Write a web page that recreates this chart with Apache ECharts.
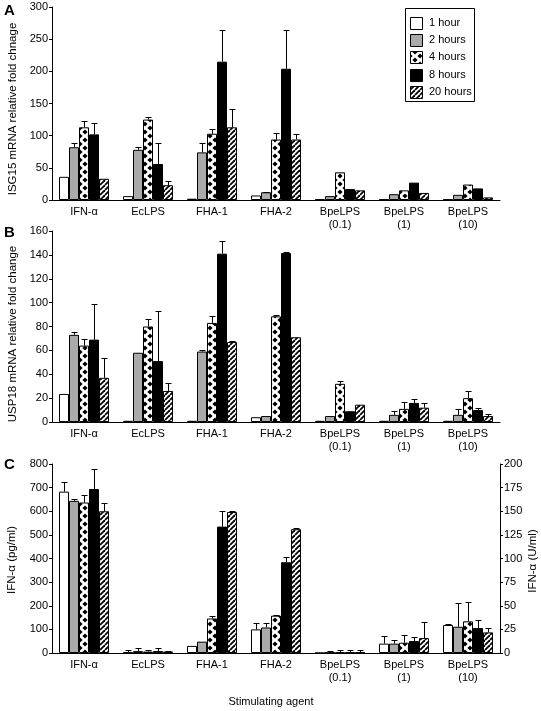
<!DOCTYPE html>
<html><head><meta charset="utf-8">
<script src="https://cdn.jsdelivr.net/npm/echarts@6/dist/echarts.min.js"></script>
<style>html,body{margin:0;padding:0;background:#fff}#c{width:541px;height:711px}</style>
</head><body><div id="c"></div>
<script>
// ---------- DATA ----------
const categories = ['IFN-\u03b1', 'EcLPS', 'FHA-1', 'FHA-2', 'BpeLPS\n(0.1)', 'BpeLPS\n(1)', 'BpeLPS\n(10)'];
const timePoints = ['1 hour', '2 hours', '4 hours', '8 hours', '20 hours'];

// Panel A: ISG15 mRNA relative fold change (mean, error)
const isg15_1h  = [36, 6, 2, 7, 1, 1, 1];
const isg15_2h  = [82, 78, 74, 12, 6, 9, 8];
const isg15_4h  = [113, 125, 103, 94, 43, 15, 24];
const isg15_8h  = [102, 56, 215, 204, 17, 27, 18];
const isg15_20h = [33, 23, 113, 94, 15, 11, 4];
const isg15Err_1h  = [0, 0, 0, 0, 0, 0, 0];
const isg15Err_2h  = [7, 4, 15, 1, 0, 0, 0];
const isg15Err_4h  = [10, 4, 7, 10, 0, 0, 0];
const isg15Err_8h  = [18, 33, 50, 60, 0, 0, 0];
const isg15Err_20h = [0, 6, 28, 9, 0, 0, 0];

// Panel B: USP18 mRNA relative fold change
const usp18_1h  = [23.5, 1, 1, 4, 1, 1, 1];
const usp18_2h  = [73, 58, 59, 5, 5, 6, 6];
const usp18_4h  = [64, 80, 83, 88.5, 32, 11, 20];
const usp18_8h  = [69, 51, 141, 141.5, 9, 16, 10];
const usp18_20h = [37, 26, 67, 71, 14.5, 12, 5];
const usp18Err_1h  = [0, 0, 0, 0, 0, 0, 0];
const usp18Err_2h  = [2, 0, 1, 0, 0, 3.5, 5];
const usp18Err_4h  = [5.5, 6.5, 6, 1.5, 2, 6, 6];
const usp18Err_8h  = [30, 42, 10.5, 1, 0, 3, 2];
const usp18Err_20h = [17, 6.5, 1, 0, 0, 4, 2];

// Panel C: IFN-alpha, pg/ml (IFN-α, EcLPS, FHA-1) on left axis
const ifnPg_1h  = [683, 4, 30];
const ifnPg_2h  = [644, 8, 48];
const ifnPg_4h  = [637, 6, 146];
const ifnPg_8h  = [694, 8, 535];
const ifnPg_20h = [600, 6, 597];
const ifnPgErr_1h  = [42, 9, 0];
const ifnPgErr_2h  = [7, 12, 0];
const ifnPgErr_4h  = [32, 6, 9];
const ifnPgErr_8h  = [83, 12, 68];
const ifnPgErr_20h = [37, 4, 3];
// Panel C: IFN-alpha, U/ml (FHA-2, BpeLPS 0.1, 1, 10) on right axis
const ifnU_1h  = [25, 0, 9.9, 29.6];
const ifnU_2h  = [27, 0.5, 9.9, 27.8];
const ifnU_4h  = [39.5, 1, 10.9, 33.5];
const ifnU_8h  = [96, 1, 12.7, 26.4];
const ifnU_20h = [131, 1, 15.8, 21.8];
const ifnUErr_1h  = [6.5, 0, 8, 1];
const ifnUErr_2h  = [5, 1.5, 4, 25];
const ifnUErr_4h  = [0.5, 1.8, 8.5, 20.5];
const ifnUErr_8h  = [5.5, 1.8, 4, 8.5];
const ifnUErr_20h = [1, 1.8, 17, 4.6];

// ---------- STYLE ----------
const FONT = "'Liberation Sans', Arial, sans-serif";
const BAR_W = 10;

function diamondPattern() {
  const c = document.createElement('canvas'); c.width = 10; c.height = 8;
  const g = c.getContext('2d');
  g.fillStyle = '#fff'; g.fillRect(0, 0, 10, 8);
  g.fillStyle = '#000';
  const d = (cx, cy) => { g.beginPath(); g.moveTo(cx, cy - 2.6); g.lineTo(cx + 2.6, cy); g.lineTo(cx, cy + 2.6); g.lineTo(cx - 2.6, cy); g.closePath(); g.fill(); };
  d(5, 4); d(0, 0); d(10, 0); d(0, 8); d(10, 8);
  return c;
}
function stripePattern() {
  const s = 5;
  const c = document.createElement('canvas'); c.width = s; c.height = s;
  const g = c.getContext('2d');
  g.fillStyle = '#fff'; g.fillRect(0, 0, s, s);
  g.strokeStyle = '#000'; g.lineWidth = 1.8;
  for (const k of [-s, 0, s]) { g.beginPath(); g.moveTo(k, s); g.lineTo(k + s, 0); g.stroke(); }
  return c;
}
const fills = [
  '#ffffff',
  '#aaaaaa',
  { image: diamondPattern(), repeat: 'repeat' },
  '#000000',
  { image: stripePattern(), repeat: 'repeat' }
];

function barSeries(xi, yi, t, vals) {
  return {
    type: 'bar', name: timePoints[t], xAxisIndex: xi, yAxisIndex: yi,
    data: vals, barWidth: BAR_W, barGap: '0%',
    itemStyle: { color: fills[t], borderColor: '#000', borderWidth: 1 },
    silent: true, z: 2
  };
}
function errSeries(xi, yi, t, vals, errs) {
  const off = (t - 2) * BAR_W;
  return {
    type: 'custom', xAxisIndex: xi, yAxisIndex: yi, z: 5, silent: true,
    data: vals.map((v, i) => [i, v, errs[i]]).filter(d => typeof d[1] === 'number' && d[2] > 0),
    encode: { x: 0, y: 1 },
    renderItem(params, api) {
      const ci = api.value(0), v = api.value(1), e = api.value(2);
      const p0 = api.coord([ci, v]), p1 = api.coord([ci, v + e]);
      const x = Math.round(p0[0] + off) + 0.5;
      const yt = Math.round(p1[1]) + 0.5;
      return { type: 'group', children: [
        { type: 'line', shape: { x1: x, y1: p0[1], x2: x, y2: yt }, style: { stroke: '#000', lineWidth: 1 } },
        { type: 'line', shape: { x1: x - 3, y1: yt, x2: x + 3, y2: yt }, style: { stroke: '#000', lineWidth: 1 } }
      ] };
    }
  };
}

const axisText = { color: '#000', fontSize: 11, fontFamily: FONT };
function xAxis(gi, show) {
  return {
    type: 'category', gridIndex: gi, data: categories, show: show !== false,
    axisLine: { show: true, lineStyle: { color: '#000', width: 1 } },
    axisTick: { show: false },
    axisLabel: Object.assign({ interval: 0, margin: 5, lineHeight: 13 }, axisText),
    splitLine: { show: false }
  };
}
function yAxis(gi, max, interval, pos) {
  return {
    type: 'value', gridIndex: gi, min: 0, max: max, interval: interval, position: pos || 'left',
    axisLine: { show: true, lineStyle: { color: '#000', width: 1 } },
    axisTick: { show: true, length: 3, lineStyle: { color: '#000' } },
    axisLabel: Object.assign({ margin: 4 }, axisText),
    splitLine: { show: false }
  };
}

const A = [isg15_1h, isg15_2h, isg15_4h, isg15_8h, isg15_20h];
const Ae = [isg15Err_1h, isg15Err_2h, isg15Err_4h, isg15Err_8h, isg15Err_20h];
const B = [usp18_1h, usp18_2h, usp18_4h, usp18_8h, usp18_20h];
const Be = [usp18Err_1h, usp18Err_2h, usp18Err_4h, usp18Err_8h, usp18Err_20h];
const pad = ['-', '-', '-', '-'];
const CL = [ifnPg_1h, ifnPg_2h, ifnPg_4h, ifnPg_8h, ifnPg_20h].map(a => a.concat(pad));
const CLe = [ifnPgErr_1h, ifnPgErr_2h, ifnPgErr_4h, ifnPgErr_8h, ifnPgErr_20h].map(a => a.concat([0, 0, 0, 0]));
const CR = [ifnU_1h, ifnU_2h, ifnU_4h, ifnU_8h, ifnU_20h].map(a => ['-', '-', '-'].concat(a));
const CRe = [ifnUErr_1h, ifnUErr_2h, ifnUErr_4h, ifnUErr_8h, ifnUErr_20h].map(a => [0, 0, 0].concat(a));

const series = [];
for (let t = 0; t < 5; t++) {
  series.push(barSeries(0, 0, t, A[t]));
  series.push(barSeries(1, 1, t, B[t]));
  series.push(barSeries(2, 2, t, CL[t]));
  series.push(barSeries(3, 3, t, CR[t]));
}
for (let t = 0; t < 5; t++) {
  series.push(errSeries(0, 0, t, A[t], Ae[t]));
  series.push(errSeries(1, 1, t, B[t], Be[t]));
  series.push(errSeries(2, 2, t, CL[t], CLe[t]));
  series.push(errSeries(3, 3, t, CR[t], CRe[t]));
}

// legend drawn as graphic
const legendRows = [22.5, 40, 57.3, 74.5, 91.5];
const legendEls = [{ type: 'rect', shape: { x: 405.5, y: 8.5, width: 69, height: 93 }, style: { fill: '#fff', stroke: '#000', lineWidth: 1 }, z: 10 }];
timePoints.forEach((tp, i) => {
  legendEls.push({ type: 'rect', shape: { x: 410.5, y: Math.round(legendRows[i] - 6) + 0.5, width: 12, height: 12 }, style: { fill: fills[i], stroke: '#000', lineWidth: 1 }, z: 11 });
  legendEls.push({ type: 'text', x: 429, y: legendRows[i], style: { text: tp, fontSize: 11, fontFamily: FONT, fill: '#000', align: 'left', verticalAlign: 'middle' }, z: 11 });
});
function vText(txt, x, y) {
  return { type: 'text', x: x, y: y, rotation: Math.PI / 2, style: { text: txt, fontSize: 11.5, fontFamily: FONT, fill: '#000', align: 'center', verticalAlign: 'middle' } };
}
function letter(txt, x, y) {
  return { type: 'text', x: x, y: y, style: { text: txt, fontSize: 15, fontWeight: 'bold', fontFamily: FONT, fill: '#000', align: 'left', verticalAlign: 'middle' } };
}

const option = {
  animation: false,
  backgroundColor: '#fff',
  textStyle: { fontFamily: FONT },
  grid: [
    { left: 52, top: 7, width: 448, height: 193, outerBoundsMode: 'none' },
    { left: 52, top: 231, width: 448, height: 191, outerBoundsMode: 'none' },
    { left: 52, top: 464, width: 448, height: 189, outerBoundsMode: 'none' }
  ],
  xAxis: [xAxis(0), xAxis(1), xAxis(2), xAxis(2, false)],
  yAxis: [yAxis(0, 300, 50), yAxis(1, 160, 20), yAxis(2, 800, 100), yAxis(2, 200, 25, 'right')],
  series: series,
  graphic: legendEls.concat([
    letter('A', 4, 11), letter('B', 4, 233), letter('C', 4, 465),
    vText('ISG15 mRNA relative fold chnage', 13, 109),
    vText('USP18 mRNA relative fold change', 13, 334),
    vText('IFN-\u03b1 (pg/ml)', 12, 560),
    vText('IFN-\u03b1 (U/ml)', 533, 561),
    { type: 'text', x: 271, y: 702, style: { text: 'Stimulating agent', fontSize: 11, fontFamily: FONT, fill: '#000', align: 'center', verticalAlign: 'middle' } }
  ])
};

const chart = echarts.init(document.getElementById('c'), null, { renderer: 'canvas' });
chart.setOption(option);
</script>
</body></html>
